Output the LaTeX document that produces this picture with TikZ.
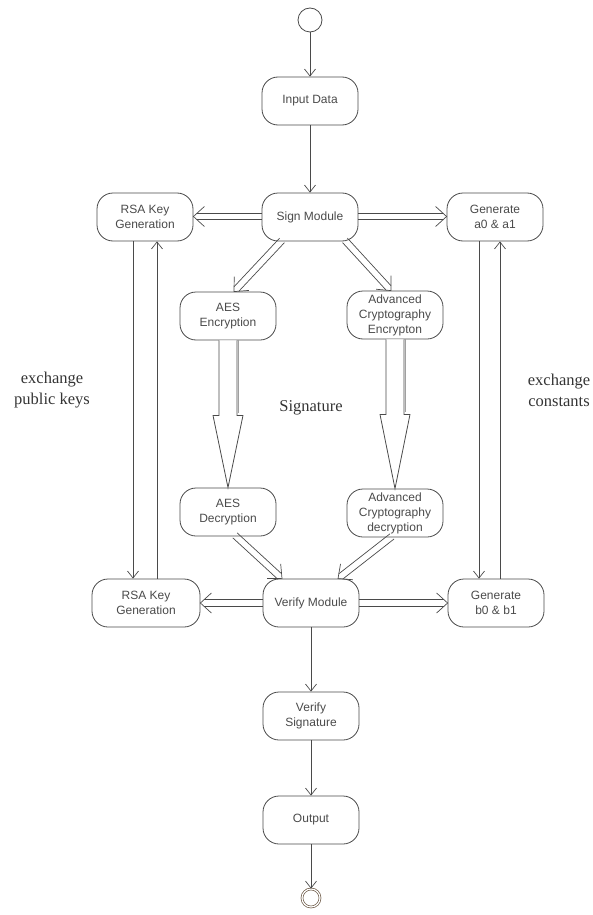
\documentclass[tikz,border=0pt]{standalone}
\usepackage{fontspec}
\setmainfont{Liberation Serif}
\setsansfont{Liberation Sans}
\usetikzlibrary{arrows.meta,calc}
\definecolor{ink}{HTML}{4A4A4A}
\definecolor{shadowgray}{HTML}{A0A0A0}
% hollow double-line arrow from coordinate #1 to coordinate #2
\newcommand\hollowarrow[2]{%
  \coordinate (hb) at ($(#2)!11pt!(#1)$);
  \coordinate (hs) at ($(#2)!3.6pt!(#1)$);
  \draw[dline] ($(#1)!3.3pt!90:(#2)$) -- ($(hs)!3.3pt!90:(#2)$);
  \draw[dline] ($(#1)!3.3pt!-90:(#2)$) -- ($(hs)!3.3pt!-90:(#2)$);
  \draw[dline] ($(hb)!10pt!90:(#2)$) -- (#2) -- ($(hb)!10pt!-90:(#2)$);
}
\begin{document}
\begin{tikzpicture}[x=1pt,y=-1pt,
  act/.style={draw=ink, line width=0.8pt, rounded corners=16pt,
    minimum width=96pt, minimum height=48pt, inner xsep=3pt, inner ysep=1pt,
    align=center, text=ink, font=\sffamily\fontsize{12}{15}\selectfont},
  flow/.style={draw=ink, line width=0.7pt, -{Straight Barb[length=7pt,width=11pt]}},
  dline/.style={draw=ink, line width=0.7pt, line join=miter},
  bigarrow/.style={draw=ink, line width=0.8pt, fill=white, line join=miter},
  note/.style={font=\rmfamily\fontsize{16.5}{21}\selectfont, text=ink!70!black, align=center}
]
\useasboundingbox (0,0) rectangle (593,915);

% activity nodes
\node[circle, draw=ink, line width=0.8pt, minimum size=24pt, inner sep=0pt] (start) at (310,20) {};
\node[act] (input) at (310,101) {Input Data};
\node[act] (sign) at (310,217) {Sign Module};
\node[act] (rsa1) at (145,217) {RSA Key\\Generation};
\node[act] (gena) at (495,217) {Generate\\a0 \& a1};
\node[act] (aesenc) at (228,316) {AES\\Encryption};
\node[act] (advenc) at (395,315) {Advanced\\Cryptography\\Encrypton};
\node[act] (aesdec) at (228,512) {AES\\Decryption};
\node[act] (advdec) at (395,513) {Advanced\\Cryptography\\decryption};
\node[act, minimum width=108pt] (rsa2) at (146,603) {RSA Key\\Generation};
\node[act] (verify) at (311,603) {Verify Module};
\node[act] (genb) at (496,603) {Generate\\b0 \& b1};
\node[act] (vsig) at (311,716) {Verify\\Signature};
\node[act] (out) at (311,820) {Output};
\node[circle, draw=ink!70!brown, line width=0.7pt, double=white, double distance=1.2pt,
  minimum size=18pt, inner sep=0pt] (end) at (311,898) {};

% main control flow
\draw[flow] (start) -- (input);
\draw[flow] (input) -- (sign);
\draw[flow] (verify) -- (vsig);
\draw[flow] (vsig) -- (out);
\draw[flow] (out) -- (end);

% key and constant exchange
\draw[flow] ($(rsa1.south)+(-12,0)$) -- ($(rsa2.north)+(-13,0)$);
\draw[flow] ($(rsa2.north)+(11,0)$) -- ($(rsa1.south)+(12,0)$);
\draw[flow] ($(gena.south)+(-16,0)$) -- ($(genb.north)+(-17,0)$);
\draw[flow] ($(genb.north)+(4,0)$) -- ($(gena.south)+(5,0)$);

% end points of the double-line flows
\coordinate (s1) at ($(sign.west)+(0,-0.5)$);   \coordinate (t1) at ($(rsa1.east)+(0,-0.5)$);
\coordinate (s2) at ($(sign.east)+(0,-0.5)$);   \coordinate (t2) at ($(gena.west)+(0,-0.5)$);
\coordinate (s3) at ($(sign.south)+(-28,-1)$);  \coordinate (t3) at ($(aesenc.north)+(6,0)$);
\coordinate (s4) at ($(sign.south)+(35,-1)$);   \coordinate (t4) at ($(advenc.north)+(-4,0)$);
\coordinate (s5) at ($(aesdec.south)+(7,-1)$);  \coordinate (t5) at ($(verify.north)+(-29,0)$);
\coordinate (s6) at ($(advdec.south)+(-3,-1)$); \coordinate (t6) at ($(verify.north)+(27,0)$);
\coordinate (s7) at (verify.west);              \coordinate (t7) at (rsa2.east);
\coordinate (s8) at (verify.east);              \coordinate (t8) at (genb.west);

% double-line flows
\hollowarrow{s1}{t1}
\hollowarrow{s2}{t2}
\hollowarrow{s3}{t3}
\hollowarrow{s4}{t4}
\hollowarrow{s5}{t5}
\hollowarrow{s6}{t6}
\hollowarrow{s7}{t7}
\hollowarrow{s8}{t8}

% wide hollow arrows between encryption and decryption
\foreach \a/\b in {aesenc/aesdec, advenc/advdec} {
  \draw[draw=shadowgray, line width=1.4pt] ($(\a.south)+(10.4,0)$) -- ($(\a.south)+(10.4,73)$);
  \draw[bigarrow] ($(\a.south)+(-9,0)$) -- ($(\a.south)+(-9,75)$)
    -- ($(\a.south)+(-15,75)$) -- (\b.north)
    -- ($(\a.south)+(15,75)$) -- ($(\a.south)+(9,75)$)
    -- ($(\a.south)+(9,0)$);
}

% labels
\node[note] (sig) at (311,408) {Signature};
\node[note] (pk) at (52,390) {exchange\\public keys};
\node[note] (ec) at (559,390) {exchange\\constants};
\end{tikzpicture}
\end{document}
